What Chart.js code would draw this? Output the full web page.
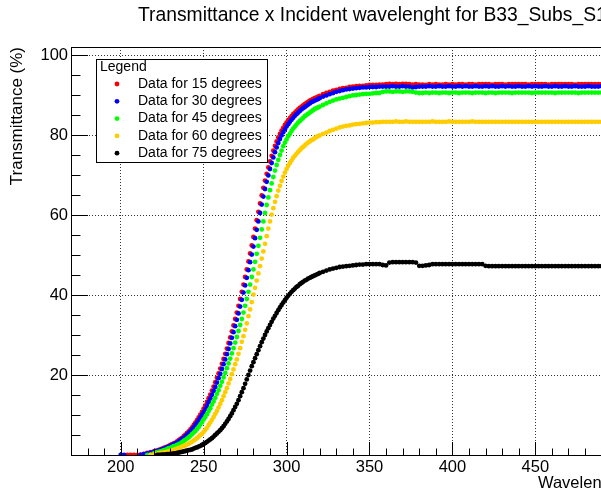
<!DOCTYPE html>
<html>
<head>
<meta charset="utf-8">
<script src="https://cdn.jsdelivr.net/npm/chart.js@4/dist/chart.umd.min.js"></script>
<style>
  html, body { margin: 0; padding: 0; background: #fff; overflow: hidden; }
  #wrap { position: absolute; left: 0; top: 0; }
</style>
</head>
<body>
<div id="wrap"><canvas id="myChart" width="700" height="497"></canvas></div>
<script>
// wavelength (nm): 200-220 every 2, 221-320 every 1, 322-526 every 2
const wavelengths = [
  200,202,204,206,208,210,212,214,216,218,220,
  221,222,223,224,225,226,227,228,229,230,
  231,232,233,234,235,236,237,238,239,240,
  241,242,243,244,245,246,247,248,249,250,
  251,252,253,254,255,256,257,258,259,260,
  261,262,263,264,265,266,267,268,269,270,
  271,272,273,274,275,276,277,278,279,280,
  281,282,283,284,285,286,287,288,289,290,
  291,292,293,294,295,296,297,298,299,300,
  301,302,303,304,305,306,307,308,309,310,
  311,312,313,314,315,316,317,318,319,320,
  322,324,326,328,330,332,334,336,338,340,
  342,344,346,348,350,352,354,356,358,360,
  362,364,366,368,370,372,374,376,378,380,
  382,384,386,388,390,392,394,396,398,400,
  402,404,406,408,410,412,414,416,418,420,
  422,424,426,428,430,432,434,436,438,440,
  442,444,446,448,450,452,454,456,458,460,
  462,464,466,468,470,472,474,476,478,480,
  482,484,486,488,490,492,494,496,498,500,
  502,504,506,508,510,512,514,516,518,520,
  522,524,526
];

const t15 = [
  null,null,0,0,0,0,0.1,0.3,0.5,0.7,0.9,
  1.0,1.1,1.3,1.4,1.6,1.8,1.9,2.1,2.3,2.5,
  2.7,2.9,3.1,3.4,3.7,4.0,4.3,4.7,5.1,5.5,
  5.9,6.4,6.9,7.5,8.1,8.7,9.4,10.1,10.8,11.6,
  12.4,13.3,14.2,15.1,16.1,17.1,18.2,19.3,20.4,21.6,
  22.8,24.0,25.3,26.6,28.0,29.4,30.9,32.4,34.0,35.6,
  37.3,39.0,40.8,42.6,44.5,46.4,48.4,50.4,52.4,54.5,
  56.6,58.7,60.8,62.9,64.9,66.8,68.6,70.3,71.9,73.4,
  74.8,76.1,77.3,78.4,79.4,80.3,81.1,81.8,82.5,83.1,
  83.7,84.2,84.7,85.2,85.6,86.0,86.4,86.8,87.1,87.4,
  87.7,88.0,88.3,88.6,88.8,89.0,89.2,89.4,89.6,89.8,
  90.2,90.5,90.8,91.1,91.3,91.5,91.7,91.8,92.0,92.1,
  92.2,92.3,92.3,92.4,92.5,92.5,92.5,92.6,92.6,92.7,
  92.8,92.7,92.8,92.7,92.8,92.8,92.7,92.6,92.7,92.6,
  92.6,92.5,92.7,92.6,92.7,92.6,92.6,92.7,92.6,92.7,
  92.6,92.7,92.7,92.6,92.7,92.7,92.6,92.7,92.7,92.7,
  92.7,92.6,92.7,92.7,92.7,92.6,92.7,92.7,92.7,92.7,
  92.7,92.7,92.6,92.7,92.7,92.7,92.7,92.7,92.6,92.7,
  92.7,92.7,92.7,92.7,92.7,92.7,92.6,92.7,92.7,92.7,
  92.7,92.7,92.7,92.7,92.7,92.7,92.7,92.7,92.7,92.7,
  92.7,92.7,92.7,92.7,92.7,92.7,92.7,92.7,92.7,92.7,
  92.7,92.7,92.7
];

const t30 = [
  0,0,null,null,null,null,0,0.2,0.4,0.6,0.8,
  0.9,1.0,1.1,1.3,1.4,1.6,1.8,1.9,2.1,2.3,
  2.5,2.7,2.9,3.1,3.4,3.7,4.0,4.3,4.7,5.1,
  5.5,5.9,6.4,6.9,7.5,8.1,8.7,9.4,10.0,10.7,
  11.5,12.3,13.2,14.1,15.0,16.0,17.0,18.1,19.2,20.3,
  21.5,22.7,23.9,25.2,26.5,27.9,29.3,30.7,32.2,33.8,
  35.4,37.1,38.8,40.6,42.4,44.3,46.2,48.2,50.1,52.1,
  54.2,56.3,58.4,60.5,62.6,64.6,66.5,68.3,69.9,71.5,
  73.0,74.4,75.7,76.9,78.0,79.0,79.9,80.7,81.4,82.1,
  82.7,83.3,83.8,84.3,84.8,85.2,85.6,86.0,86.4,86.7,
  87.0,87.3,87.6,87.9,88.2,88.4,88.6,88.8,89.0,89.2,
  89.6,89.9,90.2,90.5,90.8,91.0,91.2,91.4,91.5,91.6,
  91.7,91.8,91.9,91.9,92.0,92.0,92.0,92.1,92.1,92.1,
  92.1,92.2,92.1,92.1,92.2,92.1,92.1,91.9,92.0,92.1,
  92.1,92.1,92.2,92.1,92.1,92.2,92.1,92.1,92.2,92.1,
  92.1,92.2,92.1,92.2,92.1,92.1,92.2,92.1,92.1,92.2,
  92.1,92.2,92.1,92.1,92.2,92.1,92.2,92.1,92.1,92.2,
  92.1,92.1,92.2,92.1,92.2,92.1,92.1,92.2,92.1,92.1,
  92.2,92.1,92.1,92.2,92.1,92.1,92.2,92.1,92.1,92.1,
  92.2,92.1,92.1,92.1,92.2,92.1,92.1,92.1,92.1,92.1,
  92.1,92.1,92.1,92.1,92.1,92.1,92.1,92.1,92.1,92.1,
  92.1,92.1,92.1
];

const t45 = [
  null,null,null,null,null,null,null,null,0,0.1,0.4,
  0.6,0.7,0.8,0.9,1.0,1.2,1.3,1.5,1.7,1.8,
  2.0,2.2,2.3,2.5,2.7,2.9,3.2,3.5,3.8,4.1,
  4.4,4.8,5.2,5.6,6.0,6.5,7.0,7.6,8.2,8.9,
  9.5,10.2,11.0,11.7,12.6,13.4,14.3,15.3,16.2,17.3,
  18.3,19.4,20.5,21.7,22.9,24.1,25.4,26.7,28.1,29.5,
  31.0,32.5,34.0,35.6,37.3,39.0,40.8,42.6,44.5,46.4,
  48.3,50.3,52.3,54.3,56.4,58.4,60.5,62.5,64.4,66.2,
  67.9,69.5,71.1,72.5,73.8,75.0,76.1,77.2,78.1,78.9,
  79.7,80.3,81.0,81.6,82.1,82.6,83.1,83.5,83.9,84.3,
  84.7,85.0,85.3,85.6,85.9,86.2,86.5,86.7,86.9,87.1,
  87.5,87.9,88.3,88.6,88.9,89.1,89.3,89.5,89.7,89.9,
  90.0,90.1,90.2,90.3,90.3,90.4,90.5,90.5,90.8,90.9,
  90.9,90.8,90.9,90.9,90.8,90.9,90.9,90.8,90.6,90.5,
  90.5,90.6,90.5,90.6,90.6,90.5,90.6,90.6,90.5,90.6,
  90.6,90.5,90.6,90.6,90.6,90.5,90.6,90.6,90.6,90.5,
  90.6,90.6,90.5,90.6,90.6,90.6,90.6,90.5,90.6,90.6,
  90.6,90.6,90.6,90.5,90.6,90.6,90.6,90.6,90.6,90.6,
  90.5,90.6,90.6,90.6,90.6,90.6,90.6,90.5,90.6,90.6,
  90.6,90.6,90.6,90.6,90.6,90.6,90.6,90.6,90.6,90.6,
  90.6,90.6,90.6,90.6,90.6,90.6,90.6,90.6,90.6,90.6,
  90.6,90.6,90.6
];

const t60 = [
  null,null,null,null,null,null,null,null,null,0,0.1,
  0.2,0.3,0.4,0.5,0.5,0.6,0.7,0.8,0.9,1.0,
  1.2,1.3,1.4,1.6,1.7,1.9,2.1,2.3,2.4,2.6,
  2.8,3.1,3.3,3.6,3.9,4.2,4.6,5.0,5.3,5.8,
  6.3,6.8,7.5,8.1,8.8,9.5,10.3,11.0,11.9,12.8,
  13.7,14.7,15.7,16.7,17.9,19.0,20.2,21.4,22.7,23.9,
  25.3,26.7,28.3,29.7,31.3,32.9,34.7,36.4,38.2,40.1,
  41.8,43.6,45.4,47.2,49.1,50.9,52.8,54.7,56.6,58.4,
  60.1,61.7,63.3,64.7,66.1,67.3,68.5,69.6,70.6,71.5,
  72.3,73.0,73.6,74.3,74.8,75.3,75.8,76.2,76.7,77.0,
  77.4,77.8,78.1,78.4,78.7,78.9,79.2,79.5,79.7,79.9,
  80.3,80.6,81.0,81.3,81.6,81.9,82.1,82.3,82.4,82.6,
  82.7,82.8,82.9,83.0,83.1,83.1,83.2,83.2,83.3,83.3,
  83.3,83.3,83.4,83.3,83.3,83.4,83.3,83.3,83.3,83.3,
  83.3,83.3,83.3,83.4,83.3,83.3,83.3,83.3,83.4,83.3,
  83.3,83.3,83.3,83.3,83.3,83.4,83.3,83.3,83.3,83.3,
  83.3,83.3,83.3,83.3,83.3,83.3,83.3,83.3,83.3,83.3,
  83.3,83.3,83.3,83.3,83.3,83.3,83.3,83.3,83.3,83.3,
  83.3,83.3,83.3,83.3,83.3,83.3,83.3,83.3,83.3,83.3,
  83.3,83.3,83.3,83.3,83.3,83.3,83.3,83.3,83.3,83.3,
  83.3,83.3,83.3,83.3,83.3,83.3,83.3,83.3,83.3,83.3,
  83.3,83.3,83.3
];

const t75 = [
  null,null,null,null,null,null,null,null,null,null,null,
  null,0.0,0.0,0.0,0.1,0.1,0.1,0.2,0.2,0.3,
  0.3,0.4,0.4,0.5,0.6,0.7,0.8,0.9,1.0,1.1,
  1.2,1.3,1.4,1.6,1.8,1.9,2.1,2.3,2.5,2.8,
  3.0,3.3,3.6,3.9,4.2,4.6,5.0,5.4,5.8,6.2,
  6.7,7.2,7.8,8.4,9.0,9.7,10.4,11.2,12.0,12.8,
  13.7,14.7,15.7,16.7,17.8,18.9,20.0,21.1,22.2,23.2,
  24.2,25.2,26.2,27.2,28.2,29.1,30.0,30.9,31.7,32.5,
  33.3,34.1,34.8,35.5,36.2,36.9,37.5,38.1,38.7,39.3,
  39.8,40.3,40.8,41.2,41.6,42.0,42.3,42.7,43.0,43.3,
  43.6,43.8,44.1,44.3,44.5,44.7,44.9,45.1,45.3,45.5,
  45.8,46.1,46.4,46.6,46.8,47.0,47.1,47.2,47.3,47.4,
  47.5,47.6,47.6,47.7,47.7,47.7,47.7,47.7,47.5,47.4,
  48.1,48.2,48.2,48.2,48.2,48.2,48.2,48.2,48.1,47.3,
  47.3,47.4,47.5,47.7,47.7,47.7,47.7,47.7,47.7,47.7,
  47.7,47.7,47.7,47.7,47.7,47.7,47.7,47.7,47.7,47.3,
  47.2,47.2,47.2,47.2,47.2,47.2,47.2,47.2,47.2,47.2,
  47.2,47.2,47.2,47.2,47.2,47.2,47.2,47.2,47.2,47.2,
  47.2,47.2,47.2,47.2,47.2,47.2,47.2,47.2,47.2,47.2,
  47.2,47.2,47.2,47.2,47.2,47.2,47.2,47.2,47.2,47.2,
  47.2,47.2,47.2,47.2,47.2,47.2,47.2,47.2,47.2,47.2,
  47.2,47.2,47.2
];

const seriesLabels = ['Data for 15 degrees', 'Data for 30 degrees', 'Data for 45 degrees', 'Data for 60 degrees', 'Data for 75 degrees'];
const seriesColors = ['#ff0000', '#0000ff', '#00ff00', '#ffcc00', '#000000'];
const seriesValues = [t15, t30, t45, t60, t75];

const FONT = "'Liberation Sans', Arial, Helvetica, sans-serif";
Chart.defaults.font.family = FONT;
Chart.defaults.color = '#000';

// ROOT-style frame with inward ticks
const framePlugin = {
    id: 'rootFrame',
    afterDatasetsDraw(chart) {
        const { ctx, chartArea: a, scales: { x, y } } = chart;
        ctx.save();
        ctx.strokeStyle = '#000';
        ctx.lineWidth = 1;
        ctx.beginPath();
        for (let v = 180; v <= 520; v += 10) {
            const px = Math.round(x.getPixelForValue(v)) + 0.5;
            const len = v % 50 === 0 ? 13 : 6.5;
            ctx.moveTo(px, a.bottom);
            ctx.lineTo(px, a.bottom - len);
        }
        for (let v = 5; v <= 100; v += 5) {
            const py = Math.round(y.getPixelForValue(v)) + 0.5;
            const len = v % 20 === 0 ? 17 : 9.5;
            ctx.moveTo(a.left, py);
            ctx.lineTo(a.left + len, py);
        }
        ctx.stroke();
        ctx.strokeRect(Math.round(a.left) + 0.5, Math.round(a.top) + 0.5,
            Math.round(a.right - a.left), Math.round(a.bottom - a.top));
        ctx.restore();
    }
};

const legendPlugin = {
    id: 'rootLegend',
    afterDraw(chart) {
        const { ctx } = chart;
        ctx.save();
        ctx.fillStyle = '#fff';
        ctx.fillRect(96, 59, 172, 104);
        ctx.strokeStyle = '#000';
        ctx.lineWidth = 1;
        ctx.strokeRect(96.5, 59.5, 171, 103);
        ctx.fillStyle = '#000';
        ctx.font = '14px ' + FONT;
        ctx.textBaseline = 'middle';
        ctx.fillText('Legend', 100, 67);
        chart.data.datasets.forEach((ds, i) => {
            const yy = 84 + i * 17.3;
            ctx.fillStyle = ds.backgroundColor;
            ctx.beginPath();
            ctx.arc(117, yy, 2.4, 0, Math.PI * 2);
            ctx.fill();
            ctx.fillStyle = '#000';
            ctx.fillText(ds.label, 138, yy);
        });
        ctx.restore();
    }
};

const titlePlugin = {
    id: 'rootTitle',
    afterDraw(chart) {
        const { ctx } = chart;
        ctx.save();
        ctx.fillStyle = '#000';
        ctx.font = '19.3px ' + FONT;
        ctx.textBaseline = 'middle';
        ctx.fillText('Transmittance x Incident wavelenght for B33_Subs_S1', 138, 16);
        ctx.restore();
    }
};

const ctx = document.getElementById('myChart').getContext('2d');
const myChart = new Chart(ctx, {
    type: 'scatter',
    data: {
        datasets: seriesValues.map((vals, i) => ({
            label: seriesLabels[i],
            data: wavelengths.map((w, j) => ({ x: w, y: vals[j] })),
            backgroundColor: seriesColors[i],
            borderColor: seriesColors[i],
            pointRadius: 2.4,
            pointBorderWidth: 0,
            pointStyle: 'circle',
            order: 4 - i
        }))
    },
    options: {
        responsive: false,
        animation: false,
        devicePixelRatio: 1,
        layout: { padding: { top: 47, right: 37, bottom: 0, left: 0 } },
        plugins: {
            legend: { display: false },
            tooltip: { enabled: false }
        },
        scales: {
            x: {
                type: 'linear',
                min: 170,
                max: 527,
                afterFit: (s) => { s.height = 42; },
                afterBuildTicks: (s) => { s.ticks = s.ticks.filter(t => t.value % 50 === 0); },
                ticks: { stepSize: 50, includeBounds: false, autoSkip: false, maxRotation: 0, padding: 3, font: { size: 16.5 }, color: '#000' },
                grid: { color: 'rgba(0,0,0,0.8)', lineWidth: 1, drawTicks: false },
                border: { display: false, dash: [1, 2] },
                title: { display: true, text: 'Wavelenght (nm)', align: 'end', font: { size: 16.5 }, padding: { top: 0, bottom: 4 } }
            },
            y: {
                min: 0,
                max: 102,
                afterFit: (s) => { s.width = 71; },
                afterBuildTicks: (s) => { s.ticks = s.ticks.filter(t => t.value % 20 === 0); },
                ticks: {
                    stepSize: 20, includeBounds: false, padding: 3, font: { size: 16.5 }, color: '#000',
                    callback: (v) => v === 0 ? '' : v
                },
                grid: { color: 'rgba(0,0,0,0.8)', lineWidth: 1, drawTicks: false },
                border: { display: false, dash: [1, 2] },
                title: { display: true, text: 'Transmittance (%)', align: 'end', font: { size: 17 }, padding: { top: 7, bottom: 0 } }
            }
        }
    },
    plugins: [framePlugin, legendPlugin, titlePlugin]
});
</script>
</body>
</html>
